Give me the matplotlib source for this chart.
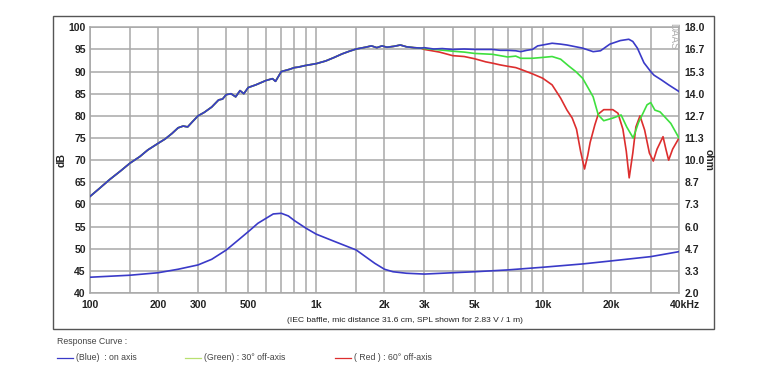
import matplotlib
matplotlib.use("Agg")
import matplotlib.pyplot as plt
import matplotlib.transforms as mtransforms
from matplotlib.patches import Rectangle
from matplotlib.lines import Line2D

plt.rcParams['font.family'] = ['Liberation Sans', 'DejaVu Sans']

# --- data ---
# common part of the three SPL curves (100 Hz .. 2.9 kHz)
f_low = [100, 110, 122, 136, 150, 166, 180, 200, 215, 230, 245, 258, 270, 285,
         300, 320, 345, 370, 385, 400, 420, 440, 460, 478, 500, 540, 600, 640,
         660, 700, 760, 800, 830, 900, 950, 1000, 1100, 1200, 1300, 1400, 1500,
         1650, 1750, 1850, 1950, 2050, 2200, 2350, 2500, 2700, 2900]
spl_low = [61.8, 63.6, 65.6, 67.5, 69.3, 70.8, 72.3, 73.8, 74.8, 76.0, 77.3,
           77.7, 77.5, 78.8, 80.0, 80.8, 82.0, 83.6, 83.8, 84.8, 85.0, 84.3,
           85.7, 85.0, 86.4, 87.0, 88.0, 88.4, 87.8, 90.0, 90.5, 90.9, 91.0,
           91.4, 91.6, 91.8, 92.4, 93.2, 94.0, 94.6, 95.1, 95.5, 95.8, 95.4,
           95.8, 95.5, 95.7, 96.0, 95.6, 95.4, 95.3]

f_blue = [3000, 3300, 3600, 4000, 4500, 5000, 5500, 6000, 6500, 7000, 7600,
          8000, 8500, 9000, 9500, 10000, 11000, 12000, 12800, 14000, 15000,
          16700, 18000, 19800, 22000, 24000, 25000, 26200, 28000, 30000,
          31000, 33500, 36000, 40000]
spl_blue = [95.4, 95.1, 95.2, 95.0, 95.1, 95.0, 95.0, 95.0, 94.8, 94.8, 94.7,
            94.5, 94.8, 95.0, 95.8, 96.0, 96.4, 96.2, 96.0, 95.6, 95.3, 94.5,
            94.7, 96.2, 97.0, 97.3, 96.8, 95.3, 92.0, 90.0, 89.2, 88.1, 87.0,
            85.5]

f_green = [3000, 3500, 4000, 4500, 5000, 6000, 7000, 7600, 8000, 9000, 10000,
           11000, 12000, 13000, 14000, 15000, 16000, 16700, 17600, 18600,
           20400, 22200, 23500, 25100, 26500, 28900, 30000, 31300, 33000,
           36800, 40000]
spl_green = [95.2, 94.9, 94.6, 94.4, 94.1, 93.9, 93.3, 93.5, 93.0, 93.0, 93.2,
             93.4, 92.8, 91.3, 90.0, 88.5, 86.0, 84.3, 80.2, 78.9, 79.5, 80.2,
             77.5, 75.0, 78.5, 82.5, 83.0, 81.3, 80.9, 78.3, 75.0]

f_red = [3000, 3500, 4000, 4500, 5000, 5600, 6000, 6500, 7000, 7600, 8000,
         9000, 10000, 11000, 12000, 12800, 13500, 14100, 14700, 15300, 15800,
         16200, 17000, 17600, 18600, 20400, 21500, 22600, 23400, 24100, 25000,
         25800, 26900, 28200, 29600, 30800, 32000, 34000, 35000, 36000, 37500,
         40000]
spl_red = [95.0, 94.4, 93.6, 93.4, 92.9, 92.2, 91.9, 91.5, 91.2, 90.9, 90.5,
           89.5, 88.5, 87.0, 84.0, 81.3, 79.5, 77.0, 72.0, 68.0, 71.0, 74.0,
           78.0, 80.4, 81.4, 81.4, 80.6, 77.0, 72.0, 66.0, 71.6, 77.5, 80.0,
           76.8, 71.6, 69.8, 72.5, 75.3, 72.5, 70.0, 72.5, 75.0]

# impedance (ohm)
f_imp = [100, 150, 200, 245, 300, 345, 400, 452, 500, 552, 600, 645, 700, 752,
         800, 900, 1000, 1210, 1500, 1810, 2000, 2180, 2500, 3000, 4000, 5000,
         7000, 10000, 15000, 20000, 30000, 40000]
ohm_imp = [2.95, 3.07, 3.22, 3.43, 3.69, 4.03, 4.59, 5.19, 5.69, 6.20, 6.50,
           6.76, 6.80, 6.64, 6.36, 5.90, 5.54, 5.09, 4.59, 3.79, 3.43, 3.28,
           3.19, 3.14, 3.22, 3.28, 3.39, 3.55, 3.75, 3.93, 4.19, 4.49]

grid_freqs = [100, 150, 200, 300, 400, 500, 600, 700, 800, 900, 1000, 1500,
              2000, 3000, 4000, 5000, 6000, 7000, 8000, 9000, 10000, 15000,
              20000, 30000, 40000]
freq_labels = {100: '100', 200: '200', 300: '300', 500: '500', 1000: '1k',
               2000: '2k', 3000: '3k', 5000: '5k', 10000: '10k',
               20000: '20k', 40000: '40kHz'}
db_ticks = list(range(40, 101, 5))
ohm_ticks = [2 + i * 4 / 3 for i in range(13)]

BLUE = '#3a3ac8'
GREEN = '#3ee03e'
RED = '#dd2e2e'
GRID = '#a8a8a8'
TXT = '#222222'

fig = plt.figure(figsize=(7.68, 3.77), dpi=100)
W, H = 768, 377

# outer frame
fig.patches.append(Rectangle((53 / W, 1 - 329 / H), (714 - 53) / W, (329 - 16) / H,
                             transform=fig.transFigure, fill=False,
                             edgecolor='#555555', lw=1.0))

ax = fig.add_axes([90 / W, 1 - 293 / H, (679 - 90) / W, (293 - 27.3) / H])
ax.set_xscale('log')
ax.set_xlim(100, 40000)
ax.set_ylim(40, 100)

ax.set_xticks(grid_freqs)
ax.set_xticklabels([freq_labels.get(f, '') for f in grid_freqs])
ax.xaxis.set_minor_locator(matplotlib.ticker.NullLocator())
ax.set_yticks(db_ticks)
ax.set_yticklabels([str(v) for v in db_ticks])
ax.grid(True, color=GRID, lw=1.1)
ax.tick_params(length=0, pad=3, labelsize=7.5, labelcolor=TXT)
ax.tick_params(axis='x', pad=5)
for lab in ax.get_xticklabels() + ax.get_yticklabels():
    lab.set_fontweight('bold')
# "40kHz" sits a little right of its grid line in the reference
last = ax.get_xticklabels()[-1]
last.set_transform(last.get_transform() +
                   mtransforms.ScaledTranslation(6 / 100, 0, fig.dpi_scale_trans))
for s in ax.spines.values():
    s.set_color(GRID)
    s.set_linewidth(1.1)

ax.plot(f_low + f_red, spl_low + spl_red, color=RED, lw=1.2, zorder=3)
ax.plot(f_low + f_green, spl_low + spl_green, color=GREEN, lw=1.2, zorder=4)
ax.plot(f_low + f_blue, spl_low + spl_blue, color=BLUE, lw=1.2, zorder=5)

ax2 = ax.twinx()
ax2.set_ylim(2, 18)
ax2.set_yticks(ohm_ticks)
ax2.set_yticklabels(['%.1f' % v for v in ohm_ticks])
ax2.tick_params(length=0, pad=4, labelsize=7.5, labelcolor=TXT)
for lab in ax2.get_yticklabels():
    lab.set_fontweight('bold')
for s in ax2.spines.values():
    s.set_visible(False)
ax2.plot(f_imp, ohm_imp, color=BLUE, lw=1.2)

fig.text(62 / W, 1 - 160 / H, 'dB', rotation=90, ha='center', va='center',
         fontsize=7.5, fontweight='bold', color=TXT)
fig.text(709 / W, 1 - 160 / H, 'ohm', rotation=270, ha='center', va='center',
         fontsize=7.5, fontweight='bold', color=TXT)
fig.text(673 / W, 1 - 36 / H, 'DAAS', rotation=270, ha='center', va='center',
         fontsize=7, color='#b0b0b0')
fig.text(405 / W, 1 - 320 / H,
         '(IEC baffle, mic distance 31.6 cm, SPL shown for 2.83 V / 1 m)',
         ha='center', va='center', fontsize=6.1, color=TXT)

# legend
fig.text(57 / W, 1 - 342 / H, 'Response Curve :', ha='left', va='center',
         fontsize=6.3, color='#444444')
for x0, col, label in [(57, BLUE, '(Blue)  : on axis'),
                       (185, '#b8e070', '(Green) : 30° off-axis'),
                       (335, RED, '( Red ) : 60° off-axis')]:
    fig.add_artist(Line2D([x0 / W, (x0 + 16) / W], [1 - 358 / H] * 2,
                          color=col, lw=0.9, transform=fig.transFigure))
    fig.text((x0 + 19) / W, 1 - 358 / H, label, ha='left', va='center',
             fontsize=6.3, color='#444444')

fig.savefig('out.png', dpi=100)
